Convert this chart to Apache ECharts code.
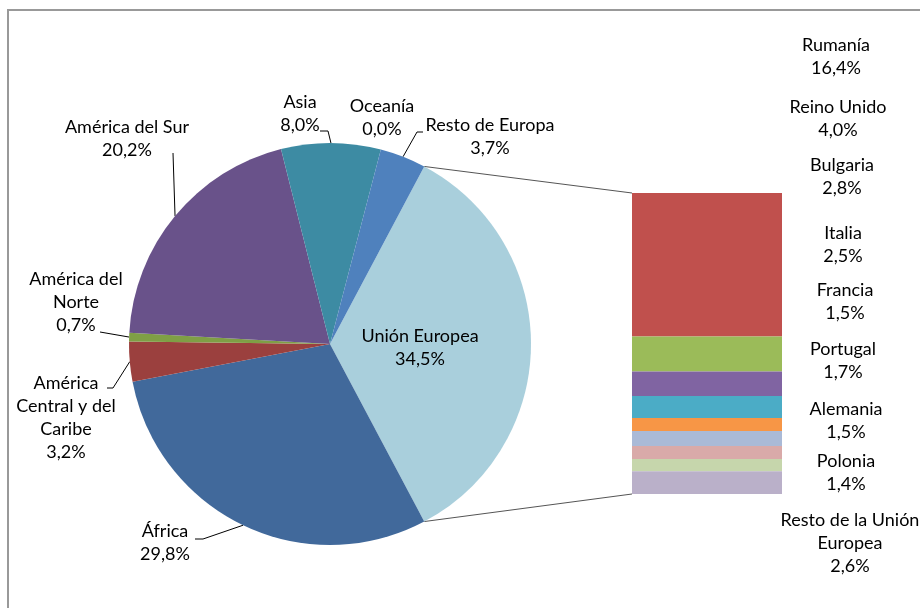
<!DOCTYPE html>
<html>
<head>
<meta charset="utf-8">
<script src="https://cdn.jsdelivr.net/npm/echarts@6/dist/echarts.min.js"></script>
<style>
  html, body { margin: 0; padding: 0; background: #fff; }
  #chart { width: 920px; height: 608px; }
</style>
</head>
<body>
<div id="chart"></div>
<script>
// pie: regions, clockwise from Unión Europea
var regions = ['Unión Europea', 'África', 'América\nCentral y del\nCaribe', 'América del\nNorte', 'América del Sur', 'Asia', 'Oceanía', 'Resto de Europa'];
var regionValues = [34.5, 29.8, 3.2, 0.7, 20.2, 8.0, 0.0, 3.7];
var regionColors = ['#a9cfdc', '#41699b', '#9b403e', '#7f9f45', '#69528a', '#3d8ba3', '#d9843b', '#4f81bd'];

// bar: EU countries, top to bottom
var countries = ['Rumanía', 'Reino Unido', 'Bulgaria', 'Italia', 'Francia', 'Portugal', 'Alemania', 'Polonia', 'Resto de la Unión\nEuropea'];
var countryValues = [16.4, 4.0, 2.8, 2.5, 1.5, 1.7, 1.5, 1.4, 2.6];
var countryColors = ['#c0504d', '#9bbb59', '#8064a2', '#4bacc6', '#f79646', '#aabad7', '#d9aaa9', '#c6d6ac', '#bab0c9'];

// label layout (label centre x, y) and leader line bends
var pieLabelPos = [[420, 348], [165, 543], [66, 418], [76, 302], [127, 139], [300, 114], [382, 118], [490, 137]];
var pieLineBends = [null, [[203, 539], [195, 539]], [[113, 388], [107, 388]], [[100, 332]], [[173, 153]], [[328, 131], [320, 131]], null, [[417, 132], [423, 132]]];
var barLabelPos = [[836, 57], [838, 119], [842, 177], [843, 245], [845, 302], [843, 361], [846, 421], [846, 473], [850, 543]];

var pieCenter = [330, 344], pieRadius = 201;
var barGrid = { left: 632, top: 193, width: 150, height: 301 };
var font = 'Lato, "Open Sans", sans-serif';

function pct(v) { return v.toFixed(1).replace('.', ',') + '%'; }

var chart = echarts.init(document.getElementById('chart'));
var total = regionValues.reduce(function (a, b) { return a + b; }, 0);
var ueHalf = regionValues[0] / total * 180;
var euTotal = countryValues.reduce(function (a, b) { return a + b; }, 0);

var pieData = regions.map(function (name, i) {
  var item = { name: name, value: regionValues[i], itemStyle: { color: regionColors[i] } };
  if (i === 0) { item.label = { position: 'inside' }; item.labelLine = { show: false }; }
  if (regionValues[i] === 0) { item.labelLine = { show: false }; }
  return item;
});

var barSeries = countries.map(function (name, i) {
  return {
    type: 'bar', name: name, stack: 'ue', barWidth: '100%',
    xAxisIndex: 0, yAxisIndex: 0,
    data: [countryValues[i]],
    itemStyle: { color: countryColors[i] },
    label: {
      show: true, position: 'right', color: '#000', fontFamily: font, fontSize: 18, lineHeight: 23,
      align: 'center', overflow: 'none', formatter: function () { return name + '\n' + pct(countryValues[i]); }
    },
    labelLayout: function () {
      return { x: barLabelPos[i][0], y: barLabelPos[i][1], align: 'center', verticalAlign: 'middle' };
    }
  };
});

var p1 = [pieCenter[0] + pieRadius * Math.cos(ueHalf * Math.PI / 180), pieCenter[1] - pieRadius * Math.sin(ueHalf * Math.PI / 180)];
var p2 = [p1[0], pieCenter[1] + pieRadius * Math.sin(ueHalf * Math.PI / 180)];

var option = {
  animation: false,
  backgroundColor: '#fff',
  grid: { left: barGrid.left, top: barGrid.top, width: barGrid.width, height: barGrid.height },
  xAxis: { type: 'category', data: ['UE'], show: false },
  yAxis: { type: 'value', min: 0, max: euTotal, inverse: true, show: false },
  graphic: [
    { type: 'rect', shape: { x: 8, y: 10, width: 1200, height: 1200 }, style: { fill: 'none', stroke: '#999', lineWidth: 2 }, silent: true },
    { type: 'line', shape: { x1: p1[0], y1: p1[1], x2: barGrid.left, y2: barGrid.top }, style: { stroke: '#555', lineWidth: 1 }, silent: true },
    { type: 'line', shape: { x1: p2[0], y1: p2[1], x2: barGrid.left, y2: barGrid.top + barGrid.height }, style: { stroke: '#555', lineWidth: 1 }, silent: true }
  ],
  series: [{
    type: 'pie',
    center: pieCenter,
    radius: pieRadius,
    startAngle: ueHalf,
    clockwise: true,
    data: pieData,
    itemStyle: { borderWidth: 0 },
    label: {
      show: true, color: '#000', fontFamily: font, fontSize: 18, lineHeight: 23, align: 'center',
      overflow: 'none', edgeDistance: 0,
      formatter: function (p) { return p.name + '\n' + pct(p.value); }
    },
    labelLine: { show: true, lineStyle: { color: '#000', width: 1 } },
    labelLayout: function (params) {
      var i = params.dataIndex;
      var res = { x: pieLabelPos[i][0], y: pieLabelPos[i][1], align: 'center', verticalAlign: 'middle' };
      if (pieLineBends[i] && params.labelLinePoints) {
        res.labelLinePoints = [params.labelLinePoints[0]].concat(pieLineBends[i]);
      }
      return res;
    }
  }].concat(barSeries)
};
chart.setOption(option);
</script>
</body>
</html>
